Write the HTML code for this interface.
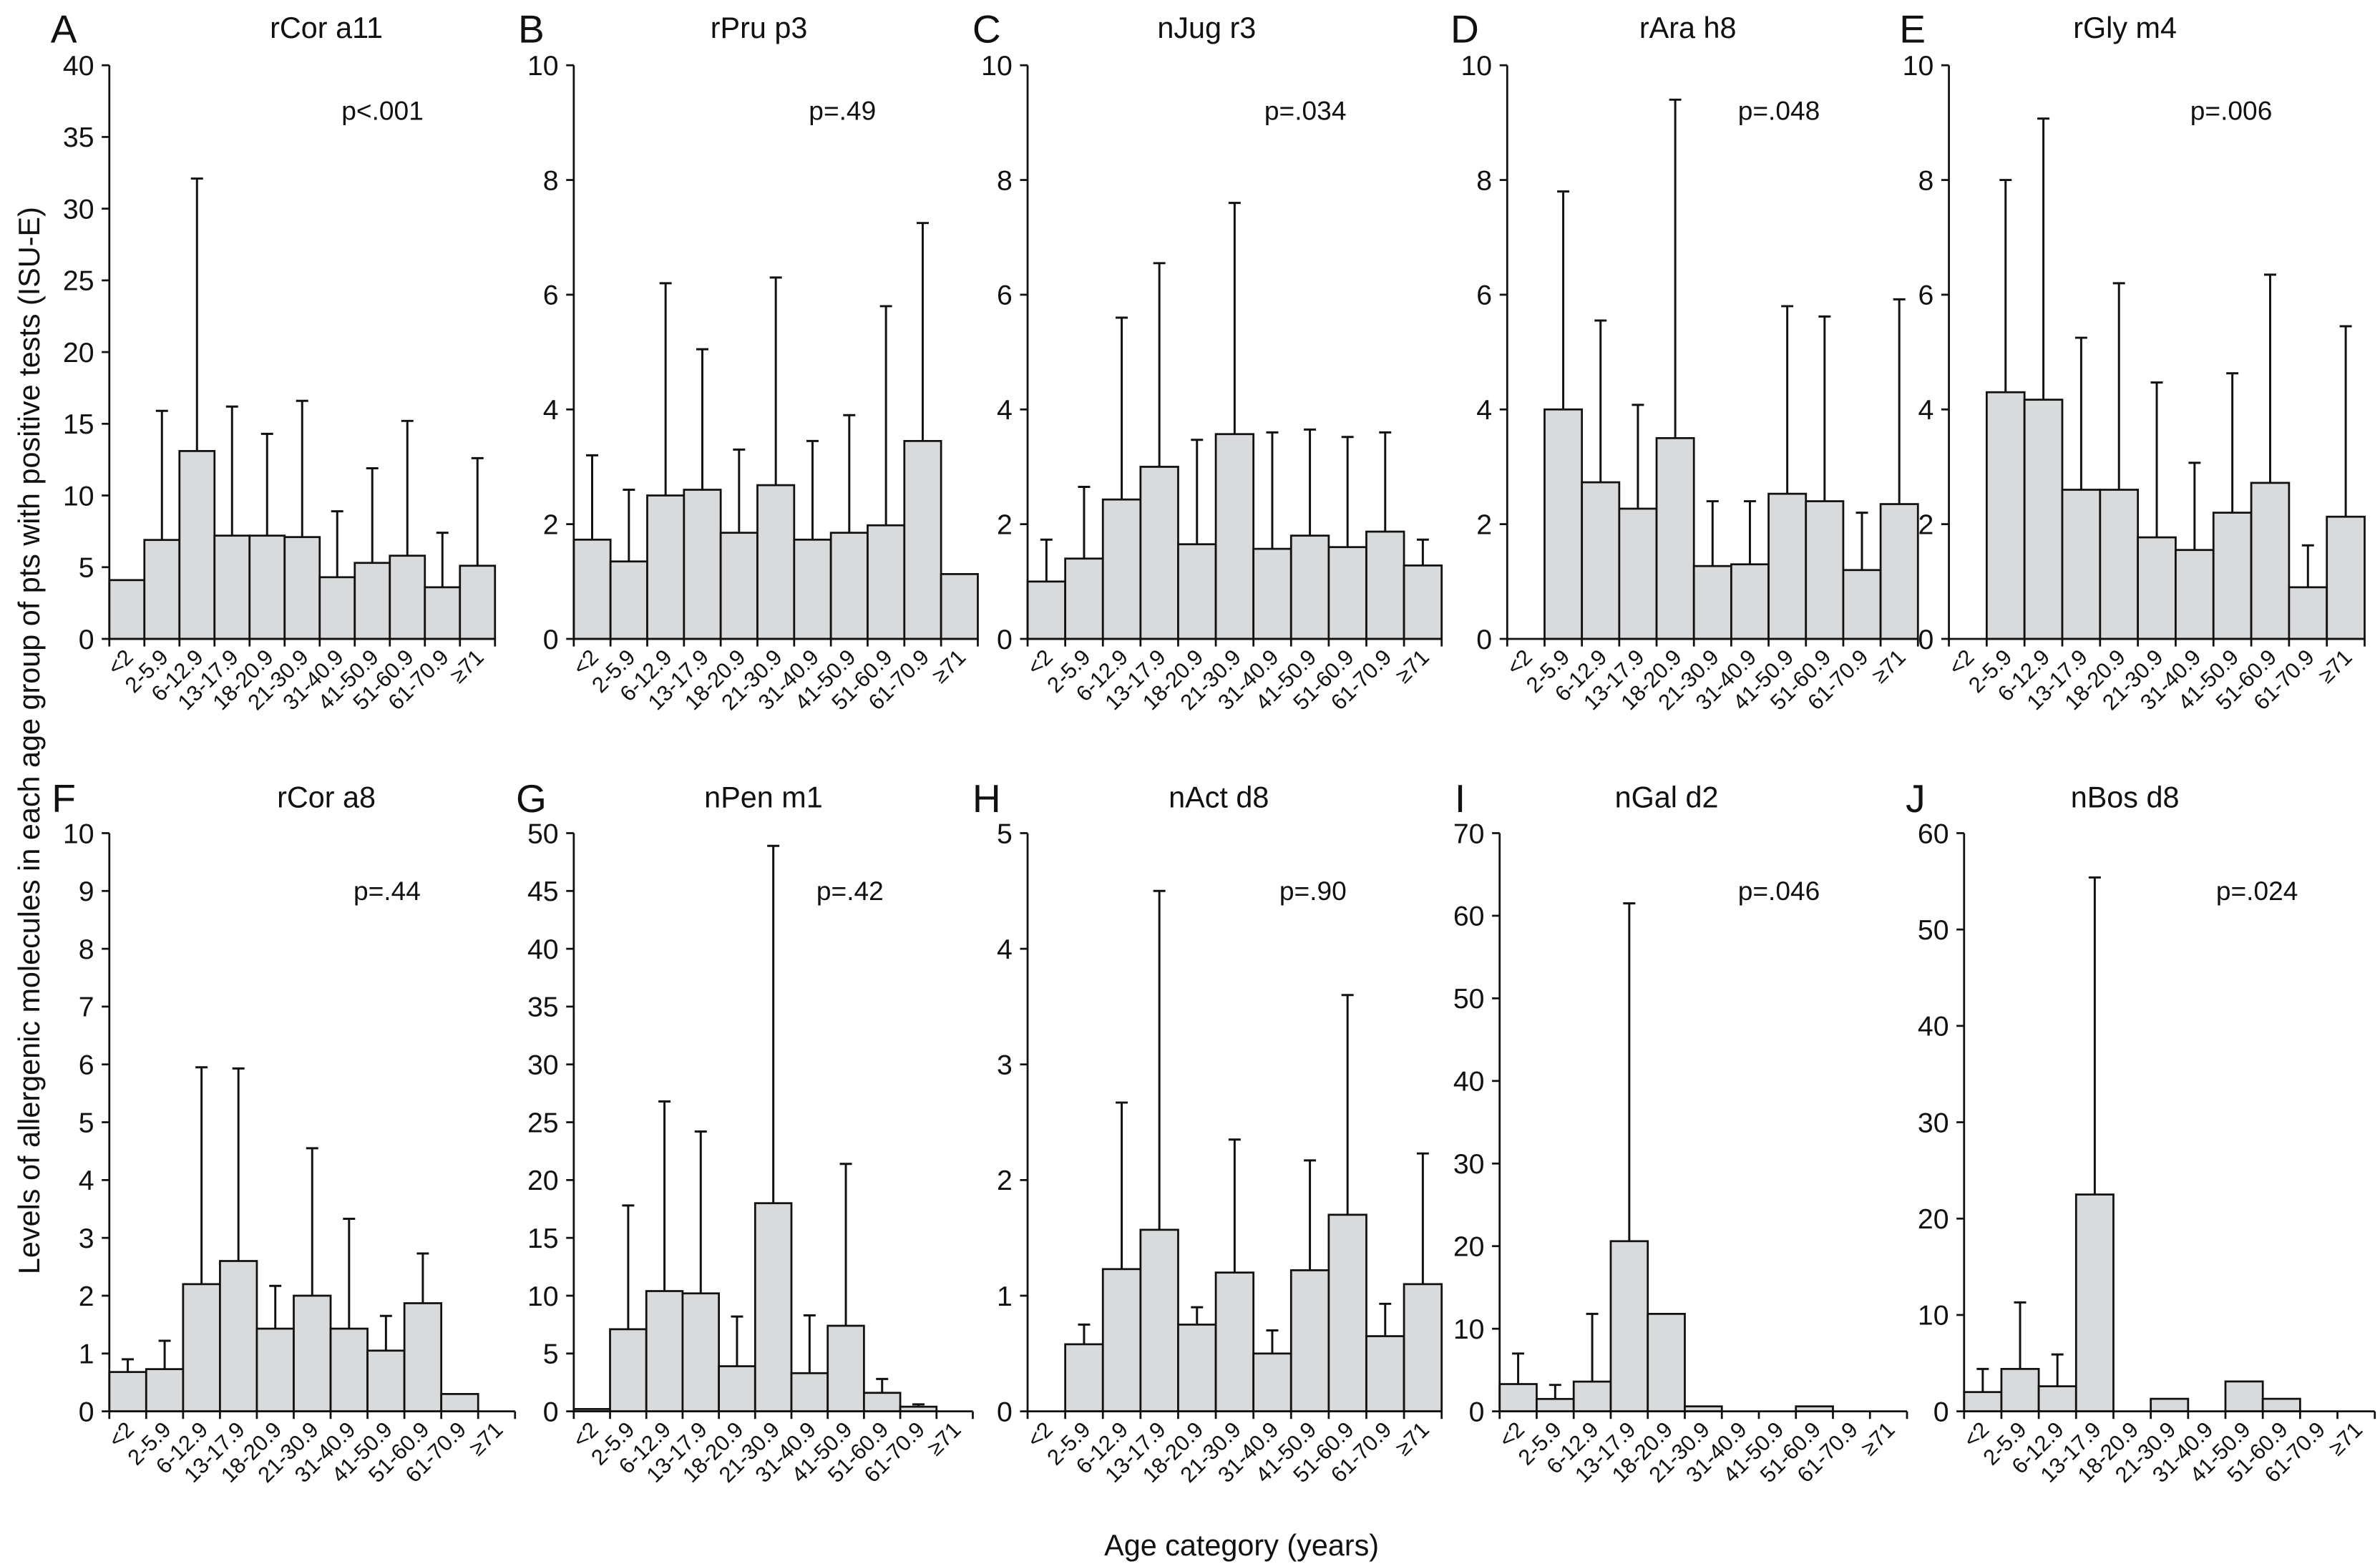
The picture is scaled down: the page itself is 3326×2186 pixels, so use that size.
<!DOCTYPE html>
<html><head><meta charset="utf-8"><style>
html,body{margin:0;padding:0;background:#fff;}
svg{display:block;}
text{font-family:"Liberation Sans",Arial,sans-serif;fill:#111;}
</style></head><body>
<svg id="fig" width="3326" height="2186" viewBox="0 0 1568 1030.6" xmlns="http://www.w3.org/2000/svg">
<text x="0" y="0" font-size="19.5" text-anchor="middle" transform="translate(26,488) rotate(-90)">Levels of allergenic molecules in each age group of pts with positive tests (ISU-E)</text>
<text x="818" y="1025" font-size="19.5" text-anchor="middle">Age category (years)</text>
</svg>
<script>
const categories = ["<2","2-5.9","6-12.9","13-17.9","18-20.9","21-30.9","31-40.9","41-50.9","51-60.9","61-70.9","\u226571"];
const panelLetters = ["A","B","C","D","E","F","G","H","I","J"];
const panelTitles = ["rCor a11","rPru p3","nJug r3","rAra h8","rGly m4","rCor a8","nPen m1","nAct d8","nGal d2","nBos d8"];
const pValues = ["p<.001","p=.49","p=.034","p=.048","p=.006","p=.44","p=.42","p=.90","p=.046","p=.024"];
const yMaxes = [40,10,10,10,10,10,50,5,70,60];
const yStepsArr = [5,2,2,2,2,1,5,1,10,10];
const meansA = [4.1,6.9,13.1,7.2,7.2,7.1,4.3,5.3,5.8,3.6,5.1];
const errA = [null,15.9,32.1,16.2,14.3,16.6,8.9,11.9,15.2,7.4,12.6];
const meansB = [1.73,1.35,2.5,2.6,1.85,2.68,1.73,1.85,1.98,3.45,1.13];
const errB = [3.2,2.6,6.2,5.05,3.3,6.3,3.45,3.9,5.8,7.25,null];
const meansC = [1.0,1.4,2.43,3.0,1.65,3.57,1.57,1.8,1.6,1.87,1.28];
const errC = [1.73,2.65,5.6,6.55,3.47,7.6,3.6,3.65,3.52,3.6,1.73];
const meansD = [0,4.0,2.73,2.27,3.5,1.27,1.3,2.53,2.4,1.2,2.35];
const errD = [null,7.8,5.55,4.08,9.4,2.4,2.4,5.8,5.62,2.2,5.92];
const meansE = [0,4.3,4.17,2.6,2.6,1.77,1.55,2.2,2.72,0.9,2.13];
const errE = [null,8.0,9.07,5.25,6.2,4.47,3.07,4.63,6.35,1.63,5.45];
const meansF = [0.68,0.73,2.2,2.6,1.43,2.0,1.43,1.05,1.87,0.3,0];
const errF = [0.9,1.22,5.95,5.93,2.17,4.55,3.33,1.65,2.73,null,null];
const meansG = [0.2,7.1,10.4,10.2,3.9,18.0,3.3,7.4,1.6,0.4,0];
const errG = [null,17.8,26.8,24.2,8.2,48.9,8.3,21.4,2.8,0.6,null];
const meansH = [0,0.58,1.23,1.57,0.75,1.2,0.5,1.22,1.7,0.65,1.1];
const errH = [null,0.75,2.67,4.5,0.9,2.35,0.7,2.17,3.6,0.93,2.23];
const meansI = [3.3,1.5,3.6,20.6,11.8,0.6,0,0,0.6,0,0];
const errI = [7.0,3.2,11.8,61.5,null,null,null,null,null,null,null];
const meansJ = [2.0,4.4,2.6,22.5,0,1.3,0,3.1,1.3,0,0];
const errJ = [4.4,11.3,5.9,55.4,null,null,null,null,null,null,null];
const allMeans = [meansA,meansB,meansC,meansD,meansE,meansF,meansG,meansH,meansI,meansJ];
const allErr = [errA,errB,errC,errD,errE,errF,errG,errH,errI,errJ];

const layout = [
 {ax:72,w:23.1,top:43,bot:421,lx:42,tx:215,px:252,ty:25,py:79},
 {ax:378,w:24.2,top:43,bot:421,lx:350,tx:500,px:555,ty:25,py:79},
 {ax:677,w:24.8,top:43,bot:421,lx:650,tx:795,px:860,ty:25,py:79},
 {ax:993,w:24.6,top:43,bot:421,lx:965,tx:1112,px:1172,ty:25,py:79},
 {ax:1284,w:24.9,top:43,bot:421,lx:1260,tx:1400,px:1470,ty:25,py:79},
 {ax:72,w:24.3,top:549,bot:930,lx:42,tx:215,px:255,ty:532,py:593},
 {ax:378,w:23.9,top:549,bot:930,lx:350,tx:503,px:560,ty:532,py:593},
 {ax:677,w:24.8,top:549,bot:930,lx:650,tx:803,px:865,ty:532,py:593},
 {ax:988,w:24.4,top:549,bot:930,lx:962,tx:1098,px:1172,ty:532,py:593},
 {ax:1294,w:24.6,top:549,bot:930,lx:1262,tx:1400,px:1487,ty:532,py:593}
];
const NS="http://www.w3.org/2000/svg";
const svg=document.getElementById('fig');
function mk(tag,attrs,parent){const e=document.createElementNS(NS,tag);for(const k in attrs)e.setAttribute(k,attrs[k]);(parent||svg).appendChild(e);return e;}

for(let p=0;p<10;p++){
  const L=layout[p], ymax=yMaxes[p], step=yStepsArr[p];
  const g=mk('g',{});
  
  
  const y=v=>L.bot-(v/ymax)*(L.bot-L.top);
  const x=i=>L.ax+i*L.w;
  const lt=mk('text',{x:L.lx,y:L.ty+3,'font-size':26,'text-anchor':'middle'},g);lt.textContent=panelLetters[p];
  
  
  const tt=mk('text',{x:L.tx,y:L.ty,'font-size':19.5,'text-anchor':'middle'},g);tt.textContent=panelTitles[p];
  
  
  const pt=mk('text',{x:L.px,y:L.py,'font-size':17.5,'text-anchor':'middle'},g);pt.textContent=pValues[p];
  
  
  const n=categories.length;
  for(let i=0;i<n;i++){
    const m=allMeans[p][i], e=allErr[p][i];
    if(m>0){
      const r=mk('rect',{x:x(i),y:y(m),width:L.w,height:L.bot-y(m),fill:'#d9dadb',stroke:'#111','stroke-width':1.3},g);
      
      
    }
    if(e!==null&&e!==undefined){
      const cx=x(i)+L.w/2;
      const l=mk('path',{d:`M${cx},${y(m)} V${y(e)} M${cx-4},${y(e)} H${cx+4}`,stroke:'#111','stroke-width':1.4,fill:'none'},g);
      
      
    }
  }
  const ya=mk('line',{x1:L.ax,y1:L.top,x2:L.ax,y2:L.bot,stroke:'#111','stroke-width':1.3},g);
  
  
  const xa=mk('line',{x1:L.ax,y1:L.bot,x2:x(n),y2:L.bot,stroke:'#111','stroke-width':1.3},g);
  
  
  for(let v=0;v<=ymax+1e-9;v+=step){
    mk('line',{x1:L.ax-5,y1:y(v),x2:L.ax,y2:y(v),stroke:'#111','stroke-width':1.3},g);
    const t=mk('text',{x:L.ax-10,y:y(v)+6.5,'font-size':18.5,'text-anchor':'end'},g);t.textContent=String(v);
    
    
  }
  for(let i=0;i<=n;i++){
    mk('line',{x1:x(i),y1:L.bot,x2:x(i),y2:L.bot+5,stroke:'#111','stroke-width':1.3},g);
  }
  for(let i=0;i<n;i++){
    const cx=x(i)+L.w/2+5, cy=L.bot+13;
    const t=mk('text',{x:0,y:0,'font-size':14.5,'text-anchor':'end',transform:`translate(${cx},${cy}) rotate(-45)`},g);
    t.textContent=categories[i];
    
    
  }
}
</script>
</body></html>
